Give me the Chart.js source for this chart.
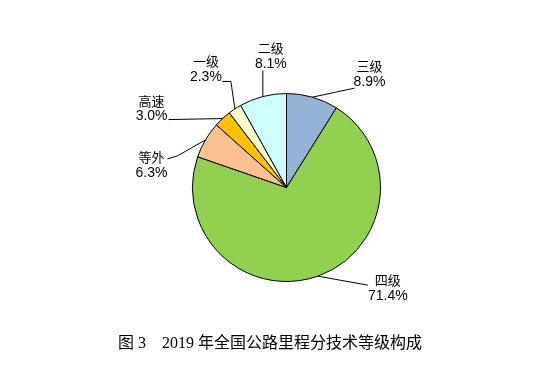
<!DOCTYPE html>
<html>
<head>
<meta charset="utf-8">
<script src="https://cdn.jsdelivr.net/npm/chart.js@4/dist/chart.umd.min.js"></script>
<style>
  html, body { margin: 0; padding: 0; background: #fff; }
  #wrap { width: 550px; height: 370px; position: relative; }
</style>
</head>
<body>
<div id="wrap"><canvas id="grafico"></canvas></div>
<script>
// dados
const categorias = ['三级', '四级', '等外', '高速', '一级', '二级'];
const percentuais = [8.9, 71.4, 6.3, 3.0, 2.3, 8.1];
const cores = ['#95B3D7', '#92D050', '#FAC090', '#FFC000', '#FFFFCC', '#CCFFFF'];
const titulo = '图 3    2019 年全国公路里程分技术等级构成';

// linhas de chamada: pontos relativos à borda da fatia, e centro do texto
const chamadas = [
    { pts: [[42, -9]], txt: [57, -23] },
    { pts: [[50, 9]], txt: [70, 12] },
    { pts: [[-28, 16], [-38, 19]], txt: [-54, 25] },
    { pts: [[-54, 1]], txt: [-71, -10] },
    { pts: [[-4, -27.5], [-12.5, -27.5]], txt: [-29, -40] },
    { pts: [[0, -26]], txt: [8, -40] }
];

const rotulos = {
    id: 'rotulos',
    afterDraw(chart) {
        const ctx = chart.ctx;
        const arcos = chart.getDatasetMeta(0).data;
        ctx.save();
        arcos.forEach((arco, i) => {
            const p = arco.getProps(['x', 'y', 'startAngle', 'endAngle', 'outerRadius'], true);
            const meio = (p.startAngle + p.endAngle) / 2;
            const ex = p.x + Math.cos(meio) * p.outerRadius;
            const ey = p.y + Math.sin(meio) * p.outerRadius;
            const c = chamadas[i];
            ctx.strokeStyle = '#000';
            ctx.lineWidth = 1;
            ctx.beginPath();
            ctx.moveTo(ex, ey);
            for (let pt of c.pts) ctx.lineTo(ex + pt[0], ey + pt[1]);
            ctx.stroke();
            const tx = ex + c.txt[0];
            const ty = ey + c.txt[1];
            ctx.fillStyle = '#000';
            ctx.textAlign = 'center';
            ctx.textBaseline = 'middle';
            ctx.font = '13px "Noto Sans CJK SC", sans-serif';
            ctx.fillText(categorias[i], tx, ty - 8);
            ctx.font = '14px "Liberation Sans", sans-serif';
            ctx.fillText(percentuais[i].toFixed(1) + '%', tx, ty + 8);
        });
        ctx.font = '16px "Liberation Serif", "Noto Sans CJK SC", serif';
        ctx.textAlign = 'center';
        ctx.textBaseline = 'middle';
        ctx.fillStyle = '#000';
        ctx.fillText(titulo, 270, 344);
        ctx.restore();
    }
};

new Chart(document.getElementById('grafico'), {
    type: 'pie',
    data: {
        labels: categorias,
        datasets: [{
            data: percentuais,
            backgroundColor: cores,
            borderColor: '#000',
            borderWidth: 1
        }]
    },
    options: {
        responsive: true,
        maintainAspectRatio: false,
        animation: false,
        layout: {
            padding: { top: 93, bottom: 88, left: 192, right: 169 }
        },
        plugins: {
            legend: { display: false },
            tooltip: { enabled: false }
        }
    },
    plugins: [rotulos]
});
</script>
</body>
</html>
